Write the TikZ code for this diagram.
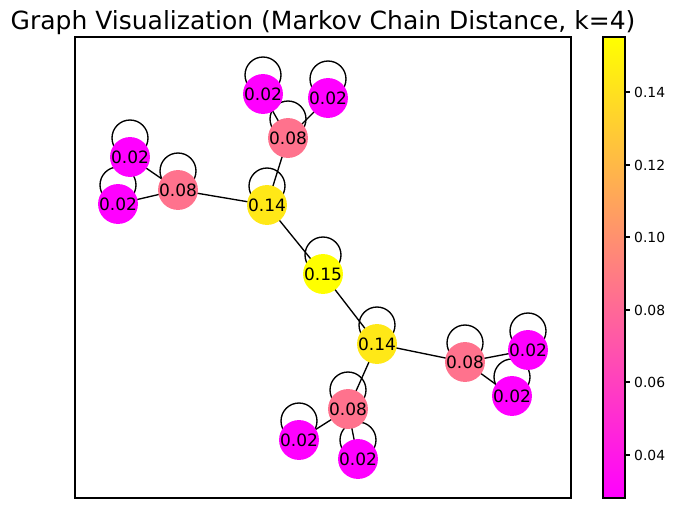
\documentclass[tikz,border=0pt]{standalone}
\usepackage{fontspec}
\setmainfont{DejaVu Sans}
\definecolor{cmag}{RGB}{255,0,255}
\definecolor{cpink}{RGB}{255,114,141}
\definecolor{cgold}{RGB}{255,232,23}
\definecolor{cyel}{RGB}{255,255,0}
\tikzset{
  gnode/.style={circle, minimum size=37pt, inner sep=0pt, fill=#1, font=\fontsize{17pt}{18pt}\selectfont},
  gedge/.style={draw=black, line width=1.35pt},
  frameline/.style={draw=black, line width=1.1pt},
  ticklab/.style={anchor=west, inner sep=0pt, font=\fontsize{13.9pt}{15pt}\selectfont}
}
\begin{document}
\begin{tikzpicture}[x=1pt,y=-1pt]
\useasboundingbox (0,0) rectangle (675,509);
% title
\node[anchor=base, inner sep=0pt, font=\fontsize{25pt}{28pt}\selectfont] (title) at (323,29) {Graph Visualization (Markov Chain Distance, k=4)};
% axes frame
\draw[frameline] (75,37) rectangle (571,498);
% node coordinates
\coordinate (a1) at (130,157);
\coordinate (a2) at (118,204);
\coordinate (b1) at (178,190);
\coordinate (c1) at (267,205);
\coordinate (b2) at (288,138);
\coordinate (a3) at (263,94);
\coordinate (a4) at (328,98);
\coordinate (d1) at (323,274);
\coordinate (c2) at (377,344);
\coordinate (b3) at (465,362);
\coordinate (a5) at (528,350);
\coordinate (a6) at (512,396);
\coordinate (b4) at (348,409);
\coordinate (a7) at (299,440);
\coordinate (a8) at (358,459);
% edges
\draw[gedge] (a1) -- (b1);
\draw[gedge] (a2) -- (b1);
\draw[gedge] (b1) -- (c1);
\draw[gedge] (c1) -- (b2);
\draw[gedge] (b2) -- (a3);
\draw[gedge] (b2) -- (a4);
\draw[gedge] (c1) -- (d1);
\draw[gedge] (d1) -- (c2);
\draw[gedge] (c2) -- (b3);
\draw[gedge] (b3) -- (a5);
\draw[gedge] (b3) -- (a6);
\draw[gedge] (c2) -- (b4);
\draw[gedge] (b4) -- (a7);
\draw[gedge] (b4) -- (a8);
% self loops
\foreach \n in {a1,a2,b1,c1,b2,a3,a4,d1,c2,b3,a5,a6,b4,a7,a8}{
  \draw[gedge] ([yshift=19pt]\n) circle[radius=18pt];
}
% nodes
\node[gnode=cmag] (na1) at (a1) {0.02};
\node[gnode=cmag] (na2) at (a2) {0.02};
\node[gnode=cpink] (nb1) at (b1) {0.08};
\node[gnode=cgold] (nc1) at (c1) {0.14};
\node[gnode=cpink] (nb2) at (b2) {0.08};
\node[gnode=cmag] (na3) at (a3) {0.02};
\node[gnode=cmag] (na4) at (a4) {0.02};
\node[gnode=cyel] (nd1) at (d1) {0.15};
\node[gnode=cgold] (nc2) at (c2) {0.14};
\node[gnode=cpink] (nb3) at (b3) {0.08};
\node[gnode=cmag] (na5) at (a5) {0.02};
\node[gnode=cmag] (na6) at (a6) {0.02};
\node[gnode=cpink] (nb4) at (b4) {0.08};
\node[gnode=cmag] (na7) at (a7) {0.02};
\node[gnode=cmag] (na8) at (a8) {0.02};
% colorbar
\shade[bottom color=cmag, top color=cyel] (603,37) rectangle (625,498);
\draw[frameline] (603,37) rectangle (625,498);
\foreach \v/\yy in {0.14/92,0.12/165,0.10/237,0.08/310,0.06/382,0.04/455}{
  \draw[line width=1.1pt] (625,\yy) -- (630,\yy);
  \node[ticklab] at (634,\yy) {\v};
}
\end{tikzpicture}
\end{document}
